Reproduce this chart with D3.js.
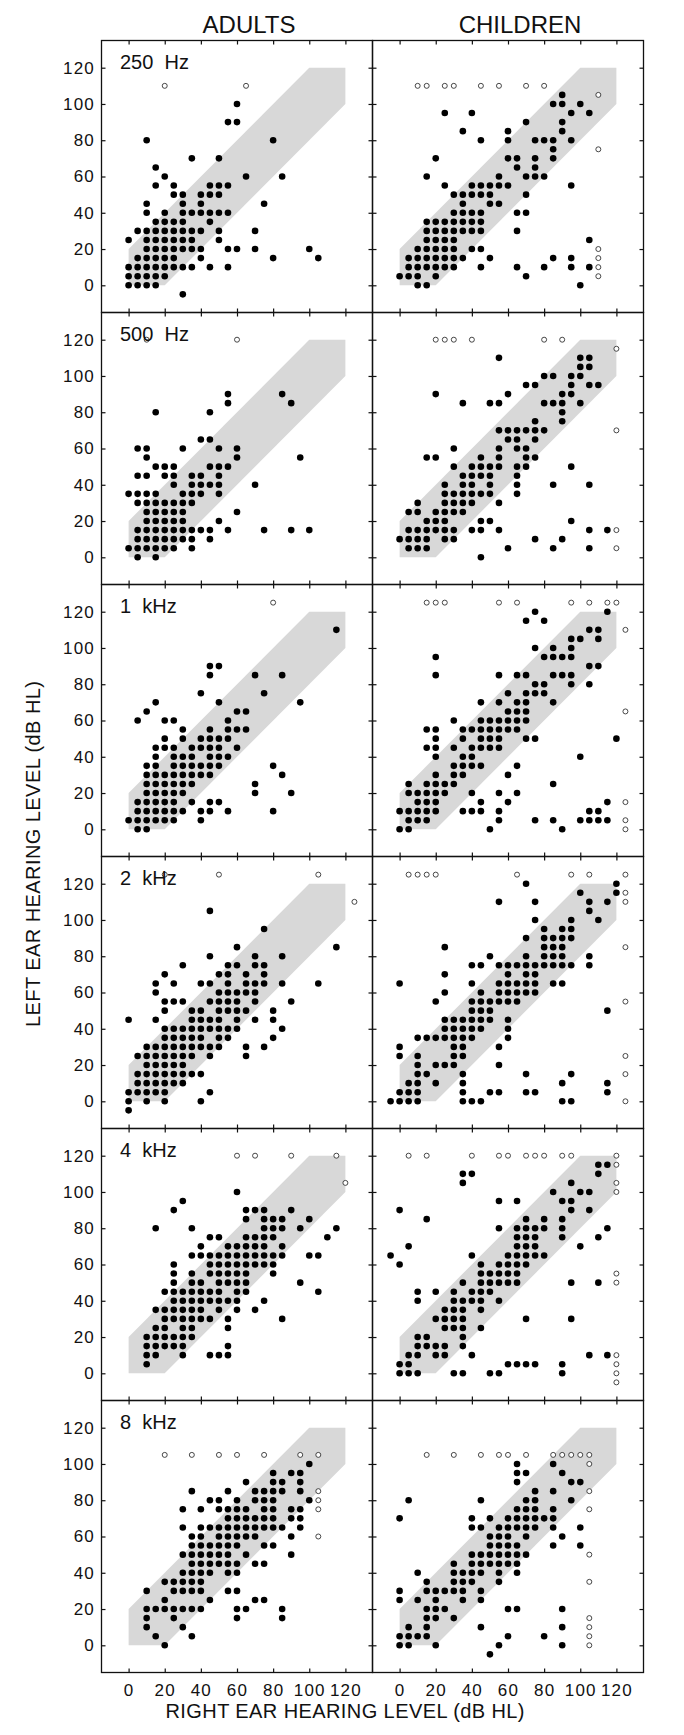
<!DOCTYPE html>
<html>
<head>
<meta charset="utf-8">
<script src="https://cdn.jsdelivr.net/npm/d3@7"></script>
<style>
  body { margin: 0; background: #fff; }
  text { font-family: "Liberation Sans", Arial, sans-serif; fill: #111; }
</style>
</head>
<body>
<div id="chart"></div>
<script>

//-- Data: each row is [left ear dB, [right ear dB values]]
var groups = ["ADULTS", "CHILDREN"];
var freqs = ["250  Hz", "500  Hz", "1  kHz", "2  kHz", "4  kHz", "8  kHz"];
var tickValues = [0, 20, 40, 60, 80, 100, 120];

var adults250 = [
  [100,[60]], [90,[55,60]], [80,[10,80]], [70,[35,50]], [65,[15]], [60,[20,65,85]],
  [55,[15,25,45,50,55]], [50,[25,30,40,45,50]], [45,[10,30,40,75]],
  [40,[10,20,30,35,40,45,50,55]], [35,[15,20,25,30,45]],
  [30,[5,10,15,20,25,30,35,40,50,70]], [25,[0,10,15,20,25,30,35,50]],
  [20,[10,15,20,25,30,35,40,55,60,70,100]], [15,[5,10,15,20,25,40,80,105]],
  [10,[0,5,10,15,20,25,30,35,45,55]], [5,[0,5,10,15,20]], [0,[0,5,10,15]], [-5,[30]]
];
var adults250Open = [[110,[20,65]]];

var children250 = [
  [105,[90]], [100,[85,90,100]], [95,[25,40,95,105]], [90,[70,90]], [85,[35,60,90]],
  [80,[45,60,75,80,85,95]], [75,[85]], [70,[20,60,65,75,85]], [65,[65,75]],
  [60,[15,55,70,75,80]], [55,[25,40,45,50,55,60,95]], [50,[30,35,40,45,50,70]],
  [45,[35,50,55]], [40,[30,35,40,45,65,70]], [35,[15,20,25,30,35,40,45]],
  [30,[15,20,25,30,35,40,45,65]], [25,[15,20,25,30,105]], [20,[10,15,20,25,30,40,45]],
  [15,[5,10,15,20,25,30,35,50,85,95]], [10,[5,10,15,20,25,30,45,65,80,95,105]],
  [5,[0,5,10,20,70]], [0,[10,15,100]]
];
var children250Open = [
  [110,[10,15,25,30,45,55,70,80]], [105,[110]], [75,[110]], [20,[110]],
  [15,[110]], [10,[110]], [5,[110]]
];

var adults500 = [
  [90,[55,85]], [85,[55,90]], [80,[15,45]], [65,[40,45]], [60,[5,10,30,50,60]],
  [55,[10,60,95]], [50,[15,20,25,45,50,55]], [45,[5,10,20,25,35,40,50]],
  [40,[25,35,40,45,50,70]], [35,[0,5,10,15,30,35,40,50]], [30,[5,10,15,20,25,30,35]],
  [25,[10,15,20,25,30,60]], [20,[10,15,20,25,30,50]],
  [15,[5,10,15,20,25,30,35,40,45,55,75,90,100]], [10,[5,10,15,20,25,30,35,45]],
  [5,[0,5,10,15,20,25,35]], [0,[5,15]]
];
var adults500Open = [[120,[10,60]]];

var children500 = [
  [110,[55,100,105]], [105,[100,105]], [100,[80,85,95,100]], [95,[70,75,95,105,110]],
  [90,[20,60,90,95]], [85,[35,50,55,80,85,90,100]], [80,[90]], [75,[75,90]],
  [70,[55,60,65,70,75,80]], [65,[60,65,75]], [60,[30,55,65,70]],
  [55,[15,20,45,55,70,75]], [50,[30,40,45,50,55,65,70,95]], [45,[35,40,45,50,65]],
  [40,[25,35,40,50,65,85,105]], [35,[25,30,35,40,45,50,65]], [30,[10,25,30,35,40,55]],
  [25,[5,10,20,25,30,35]], [20,[15,20,25,45,50,95]],
  [15,[5,10,15,20,25,30,40,45,55,105,115]], [10,[0,5,10,15,25,30,75,90]],
  [5,[5,10,15,60,85,105]], [0,[45]]
];
var children500Open = [[120,[20,25,30,40,80,90]], [115,[120]], [70,[120]], [15,[120]], [5,[120]]];

var adults1k = [
  [110,[115]], [90,[45,50]], [85,[45,70,85]], [75,[40,75]], [70,[15,50,95]],
  [65,[10,60,65]], [60,[5,20,25,55]], [55,[30,45,55,60,65]], [50,[20,30,40,45,50,55]],
  [45,[15,20,25,35,40,45,50,60]], [40,[15,25,30,35,45,50,55]],
  [35,[10,15,25,30,35,40,45,50,80]], [30,[10,15,20,25,30,35,40,45,85]],
  [25,[10,15,20,25,30,35,70]], [20,[10,15,20,25,30,70,90]],
  [15,[5,10,15,20,25,35,45,50]], [10,[5,10,15,20,25,30,40,45,55,80]],
  [5,[0,5,10,15,20,25,40]], [0,[5,10]]
];
var adults1kOpen = [[125,[80]]];

var children1k = [
  [120,[75,115]], [115,[70,80]], [110,[105,110]], [105,[95,100,110]], [100,[75,85,95]],
  [95,[20,80,85,90,95]], [90,[105,110]], [85,[20,55,65,70,85,90,95]],
  [80,[75,80,95,105]], [75,[60,70,75,80]], [70,[45,55,65,70,85]], [65,[60,65,70]],
  [60,[30,45,50,55,60,65,70]], [55,[15,20,35,40,45,50,55,60,65]],
  [50,[20,35,45,50,55,70,75,120]], [45,[15,20,30,40,45,50,55]], [40,[20,35,40,100]],
  [35,[30,35,40,45,65]], [30,[20,30,35,60]], [25,[5,15,20,25,30,85]],
  [20,[5,10,15,20,25,40,55,65]], [15,[10,15,20,45,60,115]],
  [10,[0,5,10,15,20,35,40,45,55,105,110]], [5,[5,10,15,55,75,85,100,105,110,115]],
  [0,[0,5,50,90]]
];
var children1kOpen = [
  [125,[15,20,25,55,65,95,105,115,120]], [110,[125]], [65,[125]], [15,[125]],
  [5,[125]], [0,[125]]
];

var adults2k = [
  [105,[45]], [95,[75]], [85,[60,115]], [80,[45,70,85]], [75,[30,55,60,70,75]],
  [70,[20,50,55,65,75]], [65,[15,25,40,45,55,65,70,75,85,105]], [60,[15,50,55,60,65,70]],
  [55,[20,25,30,45,50,55,60,70,90]], [50,[20,35,40,50,55,60,65,80]],
  [45,[0,15,35,40,45,50,60,70,80]], [40,[20,25,30,35,40,45,50,55,60,85]],
  [35,[20,25,30,35,40,50,55,80]], [30,[10,15,20,25,30,35,40,45,50,65,75]],
  [25,[5,10,15,20,25,30,35,45,65]], [20,[10,15,20,25,30]],
  [15,[5,10,15,20,25,30,35,40]], [10,[5,10,15,20,25,30]], [5,[0,5,10,15,20,45]],
  [0,[0,10,20,40]], [-5,[0]]
];
var adults2kOpen = [[125,[20,50,105]], [110,[125]]];

var children2k = [
  [120,[70,120]], [115,[100,120]], [110,[55,75,105,115]], [105,[105]], [100,[75,95,110]],
  [95,[80,90,95]], [90,[70,80,85,90,95]], [85,[25,80,85,90]], [80,[50,70,80,85,90,105]],
  [75,[40,45,55,60,65,70,75,80,85,90,95,105]], [70,[25,60,70,75]],
  [65,[0,40,55,60,65,70,75,85,90]], [60,[25,45,55,60,65,70,75]],
  [55,[20,40,45,50,55,60,65]], [50,[40,45,50,115]], [45,[25,30,35,40,45,50,60]],
  [40,[25,30,35,40,45,60]], [35,[10,15,20,25,30,35,40,60]], [30,[0,30,35,55]],
  [25,[0,10,30,35]], [20,[10,20,25,30,55]], [15,[10,15,35,70,95]],
  [10,[5,10,20,35,90,115]], [5,[0,5,10,35,50,55,70,75,115]],
  [0,[-5,0,5,10,35,40,45,90,95]]
];
var children2kOpen = [
  [125,[5,10,15,20,65,95,105,125]], [115,[125]], [110,[125]], [85,[125]],
  [55,[125]], [25,[125]], [15,[125]], [0,[125]]
];

var adults4k = [
  [100,[60]], [95,[30]], [90,[25,65,70,75,90]], [85,[65,75,80,85,100]],
  [80,[15,35,75,80,85,95,115]], [75,[45,50,65,70,75,80,110]],
  [70,[40,55,60,65,70,75,85]], [65,[35,40,45,50,55,60,65,70,75,80,85,100,105]],
  [60,[25,45,50,55,60,65,70,75,80]], [55,[25,35,45,50,55,60,65,80]],
  [50,[25,35,40,50,55,60,65,95]], [45,[20,25,30,35,40,45,50,60,65,105]],
  [40,[25,30,35,40,45,50,55,60,75]], [35,[15,20,25,30,35,40,50,60,70]],
  [30,[20,25,30,35,40,45,55,85]], [25,[15,20,30,35,55]], [20,[10,15,20,25,30,35]],
  [15,[10,15,20,25,30,55]], [10,[10,15,30,45,50,55]], [5,[10]]
];
var adults4kOpen = [[120,[60,70,90,115]], [105,[120]]];

var children4k = [
  [115,[110,115]], [110,[35,40,110]], [105,[35,95]], [100,[85,100,105]],
  [95,[55,65,90,95]], [90,[0,95,105]], [85,[15,70,80,90]],
  [80,[55,65,70,75,80,90,115]], [75,[65,70,75,90,110]], [70,[5,65,70,75,100]],
  [65,[-5,40,60,65,70,75,80]], [60,[0,45,55,60,65,70]], [55,[45,50,55,60,65]],
  [50,[35,45,50,55,60,65,95,110]], [45,[10,20,30,40,45,50]], [40,[10,30,35,40,45,55]],
  [35,[25,30,35,45]], [30,[20,25,30,35,70,95]], [25,[25,30,35,45]], [20,[10,15,35]],
  [15,[10,15,20,25,35]], [10,[5,10,20,25,40,105,115]], [5,[0,5,60,65,70,75,90]],
  [0,[0,5,10,30,35,50,55,90]]
];
var children4kOpen = [
  [120,[5,15,40,55,60,70,75,80,90,95,120]], [115,[120]], [105,[120]], [100,[120]],
  [55,[120]], [50,[120]], [10,[120]], [5,[120]], [0,[120]], [-5,[120]]
];

var adults8k = [
  [100,[100]], [95,[80,90,95]], [90,[65,80,85,95]], [85,[35,55,70,75,80,85,95]],
  [80,[45,50,60,70,75,80,100]], [75,[30,40,50,55,60,65,75,80,90,95]],
  [70,[55,60,65,70,75,80,90,95]], [65,[30,40,45,50,55,60,65,70,75,80,85,95]],
  [60,[35,40,50,55,60,65,70,90]], [55,[35,40,45,50,55,60,75,80]],
  [50,[30,35,40,45,50,55,65,90]], [45,[35,40,45,50,55,60,70,75]],
  [40,[30,35,40,45,55,60]], [35,[20,25,30,35,40]], [30,[10,25,30,35,40,55,60]],
  [25,[20,45,70,75]], [20,[10,15,20,25,30,35,40,60,65,85]], [15,[10,25,60,85]],
  [10,[10,30]], [5,[15,35]], [0,[20]]
];
var adults8kOpen = [[105,[20,35,50,60,75,95,105]], [85,[105]], [80,[105]], [75,[105]], [60,[105]]];

var children8k = [
  [100,[65,85]], [95,[65,70,90]], [90,[65,95,100]], [85,[75,85]], [80,[5,45,70,75,95]],
  [75,[65,70,75,85]], [70,[0,40,50,60,65,70,75,80,85]],
  [65,[40,45,55,60,65,70,75,85,100]], [60,[50,55,60,70,90]],
  [55,[50,55,60,65,85,100]], [50,[40,45,50,55,60,65,70]], [45,[30,40,45,50,55,60,65]],
  [40,[10,30,35,40,45,55,65]], [35,[15,30,35,40,55]], [30,[0,15,20,25,30,35,45]],
  [25,[0,10,20,35,45]], [20,[15,20,25,60,65,90]], [15,[15,20,30]], [10,[5,15,45,90]],
  [5,[0,5,10,15,60,80]], [0,[0,5,20,55,90]], [-5,[50]]
];
var children8kOpen = [
  [105,[15,30,45,55,60,70,85,90,95,100,105]], [100,[105]], [85,[105]], [75,[105]],
  [50,[105]], [35,[105]], [15,[105]], [10,[105]], [5,[105]], [0,[105]]
];

//-- Panel list (row = frequency, column = group)
var filledData = [
  [adults250, children250], [adults500, children500], [adults1k, children1k],
  [adults2k, children2k], [adults4k, children4k], [adults8k, children8k]
];
var openData = [
  [adults250Open, children250Open], [adults500Open, children500Open], [adults1kOpen, children1kOpen],
  [adults2kOpen, children2kOpen], [adults4kOpen, children4kOpen], [adults8kOpen, children8kOpen]
];

//-- +/-20 dB agreement band
var band = [[0,0],[20,0],[120,100],[120,120],[100,120],[0,20]];

//-- Dimension & layout
var totWidth = 684, totHeight = 1735;
var left0 = 101.5, top0 = 40.5;
var panelW = 271, panelH = 272;

var svg = d3.select("#chart")
  .append("svg")
    .attr("width", totWidth)
    .attr("height", totHeight);

var x = d3.scaleLinear().domain([-15, 135]).range([0, panelW]);
var y = d3.scaleLinear().domain([-15, 135]).range([panelH, 0]);

var unpack = function(rows) {
  var pts = [];
  rows.forEach(function(r) {
    r[1].forEach(function(v) { pts.push([v, r[0]]); });
  });
  return pts;
};

var bandLine = d3.line()
  .x(function(d) { return x(d[0]); })
  .y(function(d) { return y(d[1]); });

filledData.forEach(function(row, ri) {
  row.forEach(function(rows, ci) {
    var g = svg.append("g")
      .attr("transform", "translate(" + (left0 + ci*panelW) + "," + (top0 + ri*panelH) + ")");

    g.append("path")
      .attr("d", bandLine(band) + "Z")
      .attr("fill", "#d8d8d8");

    //-- inward ticks on all four sides
    var axes = [
      {ax: d3.axisBottom(x), t: "translate(0," + panelH + ")", lab: ri == 5},
      {ax: d3.axisTop(x), t: "translate(0,0)", lab: false},
      {ax: d3.axisLeft(y), t: "translate(0,0)", lab: ci == 0},
      {ax: d3.axisRight(y), t: "translate(" + panelW + ",0)", lab: false}
    ];
    axes.forEach(function(a) {
      a.ax.tickValues(tickValues).tickSizeInner(-4).tickSizeOuter(0).tickPadding(a.lab ? 11 : 0);
      if (!a.lab) a.ax.tickFormat(function() { return ""; });
      var ag = g.append("g").attr("transform", a.t).call(a.ax);
      ag.select(".domain").remove();
      ag.selectAll("line").attr("stroke", "#111").attr("stroke-width", 1.2);
      ag.selectAll("text")
        .attr("font-family", "Liberation Sans, Arial, sans-serif")
        .attr("font-size", 17)
        .style("letter-spacing", "1.2px")
        .attr("fill", "#111");
    });
    if (ci == 0) {
      g.selectAll(".tick text").filter(function() { return d3.select(this).attr("x") !== null && +d3.select(this).attr("x") < 0; })
        .attr("x", -6.5);
    }

    g.append("rect")
      .attr("width", panelW)
      .attr("height", panelH)
      .attr("fill", "none")
      .attr("stroke", "#111")
      .attr("stroke-width", 1.3);

    g.selectAll("circle.filled")
      .data(unpack(rows))
      .enter()
      .append("circle")
        .attr("class", "filled")
        .attr("cx", function(d) { return x(d[0]); })
        .attr("cy", function(d) { return y(d[1]); })
        .attr("r", 3.3)
        .attr("fill", "#000");

    g.selectAll("circle.open")
      .data(unpack(openData[ri][ci]))
      .enter()
      .append("circle")
        .attr("class", "open")
        .attr("cx", function(d) { return x(d[0]); })
        .attr("cy", function(d) { return y(d[1]); })
        .attr("r", 2.5)
        .attr("fill", "#fff")
        .attr("stroke", "#333")
        .attr("stroke-width", 0.9);

    if (ci == 0) {
      g.append("text")
        .attr("x", 18.5)
        .attr("y", 28.8)
        .attr("font-size", 20)
        .style("white-space", "pre")
        .text(freqs[ri]);
    }
  });
});

//-- Column titles
svg.selectAll("text.group")
  .data(groups)
  .enter()
  .append("text")
    .attr("class", "group")
    .attr("x", function(d, i) { return left0 + i*panelW + panelW/2 + 12; })
    .attr("y", 33)
    .attr("text-anchor", "middle")
    .attr("font-size", 24)
    .text(function(d) { return d; });

//-- Axis titles
svg.append("text")
  .attr("transform", "translate(40,854) rotate(-90)")
  .attr("text-anchor", "middle")
  .attr("font-size", 20)
  .attr("textLength", 346)
  .attr("lengthAdjust", "spacing")
  .text("LEFT EAR HEARING LEVEL (dB HL)");

svg.append("text")
  .attr("x", 345)
  .attr("y", 1717.5)
  .attr("text-anchor", "middle")
  .attr("font-size", 20)
  .attr("textLength", 359)
  .attr("lengthAdjust", "spacing")
  .text("RIGHT EAR HEARING LEVEL (dB HL)");

</script>
</body>
</html>
